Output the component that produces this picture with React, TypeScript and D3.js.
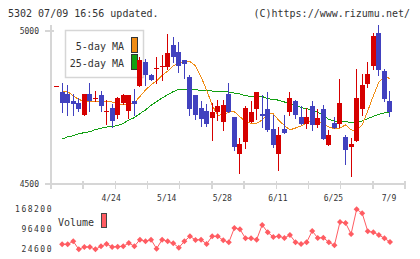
import React, { useEffect, useRef } from 'react';
import * as d3 from 'd3';

// daily prices, oldest first
const opens = [
  4820, 4800, 4795, 4770, 4765, 4725, 4795, 4780, 4790, 4740,
  4750, 4725, 4765, 4740, 4770, 4820, 4900, 4855, 4878, 4884,
  4882, 4955, 4930, 4905, 4850, 4790, 4748, 4740, 4717, 4735,
  4703, 4794, 4719, 4599, 4637, 4703, 4746, 4729, 4745, 4680,
  4599, 4680, 4735, 4771, 4719, 4697, 4755, 4694, 4745, 4628,
  4699, 4697, 4654, 4622, 4642, 4746, 4827, 4887, 4994, 4869,
  4771,
];
const highs = [
  4820, 4830, 4825, 4795, 4780, 4795, 4830, 4805, 4805, 4775,
  4760, 4785, 4795, 4790, 4810, 4915, 4910, 4860, 4915, 4920,
  4990, 4980, 4965, 4905, 4857, 4792, 4771, 4762, 4765, 4775,
  4775, 4830, 4719, 4650, 4754, 4771, 4800, 4790, 4800, 4725,
  4686, 4725, 4800, 4775, 4755, 4748, 4771, 4744, 4757, 4677,
  4719, 4843, 4661, 4650, 4876, 4860, 4899, 4994, 5020, 4876,
  4804,
];
const lows = [
  4820, 4735, 4725, 4725, 4740, 4725, 4740, 4770, 4740, 4695,
  4685, 4715, 4760, 4715, 4725, 4820, 4825, 4840, 4830, 4840,
  4877, 4900, 4865, 4845, 4725, 4713, 4689, 4690, 4643, 4708,
  4676, 4735, 4612, 4537, 4618, 4703, 4713, 4686, 4673, 4621,
  4547, 4668, 4724, 4717, 4697, 4683, 4677, 4686, 4648, 4628,
  4684, 4686, 4566, 4527, 4642, 4727, 4817, 4877, 4857, 4771,
  4723,
];
const closes = [
  4820, 4765, 4765, 4760, 4745, 4795, 4770, 4780, 4755, 4740,
  4705, 4780, 4790, 4790, 4760, 4905, 4855, 4840, 4880, 4887,
  4928, 4915, 4885, 4893, 4746, 4727, 4713, 4697, 4735, 4755,
  4758, 4735, 4621, 4631, 4748, 4735, 4800, 4722, 4677, 4628,
  4660, 4668, 4781, 4727, 4697, 4719, 4694, 4716, 4648, 4660,
  4684, 4765, 4612, 4631, 4781, 4824, 4860, 4984, 4874, 4778,
  4736,
];

const ma5 = [
  null, 4804, 4802, 4788, 4776, 4771, 4771, 4770, 4771, 4771,
  4768, 4761, 4761, 4761, 4765, 4786, 4807, 4824, 4837, 4855,
  4869, 4886, 4895, 4900, 4900, 4886, 4850, 4807, 4758, 4724,
  4727, 4735, 4736, 4720, 4704, 4698, 4698, 4709, 4729, 4729,
  4708, 4691, 4677, 4683, 4690, 4699, 4708, 4703, 4696, 4686,
  4681, 4683, 4693, 4677, 4674, 4693, 4739, 4788, 4833, 4850,
  4845,
];
const ma25 = [
  null, 4647, 4654, 4658, 4664, 4668, 4671, 4678, 4682, 4686,
  4688, 4691, 4698, 4709, 4717, 4730, 4742, 4757, 4769, 4781,
  4792, 4802, 4809, 4810, 4810, 4808, 4806, 4805, 4804, 4802,
  4801, 4801, 4797, 4794, 4788, 4787, 4786, 4786, 4779, 4776,
  4774, 4768, 4762, 4757, 4750, 4746, 4742, 4734, 4724, 4711,
  4706, 4704, 4703, 4702, 4702, 4706, 4714, 4721, 4728, 4732,
  4735,
];

const volumes = [
  null, 42500, 42500, 53300, 24600, 33000, 33000, 24600, 35400, 43700,
  33000, 34200, 35400, 47300, 35400, 59300, 53300, 59300, 27000, 59300,
  53300, 46100, 30600, 53300, 71300, 58100, 59300, 43700, 71300, 71300,
  56900, 49700, 101200, 96400, 64100, 64100, 59300, 112000, 85600, 68900,
  71300, 65300, 76100, 49700, 43700, 49700, 90400, 65300, 66500, 49700,
  39000, 122700, 119100, 79600, 168200, 153800, 89200, 85600, 76100, 64100,
  50900,
];

const dateTicks = [10, 20, 30, 40, 50, 60];
const dateLabels = ['4/24', '5/14', '5/28', '6/11', '6/25', '7/9'];
const priceTicks = [4500, 5000];

const UP = '#d60000';
const DOWN = '#4141bf';
const MA5_COLOR = '#f08c14';
const MA25_COLOR = '#12a012';
const VOL_COLOR = '#ff5c62';
const AXIS = '#d6d6d6';
const TEXT = '#333';
const MONO = "'DejaVu Sans Mono', monospace";

const App = () => {
  const svgRef = useRef<SVGSVGElement>(null);

  useEffect(() => {
    const svg = d3.select(svgRef.current);
    svg.selectAll('*').remove();

    const x = d3.scaleLinear().domain([-1, 62.7]).range([51, 405]);
    const y = d3.scaleLinear().domain([4500, 5000]).range([184, 31]);
    const volVals = volumes.filter((v) => v != null) as number[];
    const vMin = d3.min(volVals)!;
    const vMax = d3.max(volVals)!;
    const yv = d3.scaleLinear().domain([vMin, vMax]).range([249.3, 209.3]);

    // header
    svg.append('text').attr('x', 8).attr('y', 17)
      .style('font-family', MONO).style('font-size', '10px').attr('fill', TEXT)
      .text('5302 07/09 16:56 updated.');
    svg.append('text').attr('x', 410).attr('y', 17).attr('text-anchor', 'end')
      .style('font-family', MONO).style('font-size', '10px').attr('fill', TEXT)
      .text('(C)https://www.rizumu.net/');

    // axes
    const [x0, x1] = x.range();
    const axis = svg.append('g').attr('stroke', AXIS).attr('stroke-width', 1.5)
      .attr('shape-rendering', 'crispEdges');
    axis.append('line').attr('x1', x0).attr('x2', x0).attr('y1', 25).attr('y2', 189);
    axis.append('line').attr('x1', 45).attr('x2', x1).attr('y1', y(4500)).attr('y2', y(4500));
    axis.selectAll('.yt').data(priceTicks).enter().append('line')
      .attr('x1', 45).attr('x2', 54).attr('y1', (d) => y(d)).attr('y2', (d) => y(d));
    axis.selectAll('.xt').data(d3.range(12)).enter().append('line')
      .attr('x1', (k) => x0 + (k * (x1 - x0)) / 11)
      .attr('x2', (k) => x0 + (k * (x1 - x0)) / 11)
      .attr('y1', 181).attr('y2', 189);

    svg.selectAll('.pl').data(priceTicks).enter().append('text')
      .attr('x', 39).attr('y', (d) => y(d) + 3).attr('text-anchor', 'end')
      .style('font-family', MONO).style('font-size', '8px').attr('fill', TEXT)
      .text((d) => d);

    svg.selectAll('.dl').data(dateTicks).enter().append('text')
      .attr('x', (d) => x(d) - 1).attr('y', 201).attr('text-anchor', 'middle')
      .style('font-family', MONO).style('font-size', '8px').attr('fill', TEXT)
      .text((d, i) => dateLabels[i]);

    // legend box
    const lg = svg.append('g');
    lg.append('rect').attr('x', 65.5).attr('y', 30.5).attr('width', 78).attr('height', 47)
      .attr('fill', '#fff').attr('stroke', AXIS).attr('stroke-width', 1.5);
    lg.append('text').attr('x', 124).attr('y', 50).attr('text-anchor', 'end')
      .style('font-family', MONO).style('font-size', '10px').attr('fill', TEXT).text('5-day MA');
    lg.append('text').attr('x', 124).attr('y', 67).attr('text-anchor', 'end')
      .style('font-family', MONO).style('font-size', '10px').attr('fill', TEXT).text('25-day MA');
    lg.append('rect').attr('x', 131.5).attr('y', 37.5).attr('width', 6).attr('height', 15)
      .attr('fill', MA5_COLOR).attr('stroke', '#333');
    lg.append('rect').attr('x', 131.5).attr('y', 54.5).attr('width', 6).attr('height', 15)
      .attr('fill', MA25_COLOR).attr('stroke', '#333');

    // moving averages
    const maLine = d3.line<number | null>()
      .defined((d) => d != null)
      .x((d, i) => x(i))
      .y((d) => y(d as number));
    svg.append('path').datum(ma25).attr('d', maLine).attr('fill', 'none')
      .attr('stroke', MA25_COLOR).attr('stroke-width', 1).attr('shape-rendering', 'crispEdges');
    svg.append('path').datum(ma5).attr('d', maLine).attr('fill', 'none')
      .attr('stroke', MA5_COLOR).attr('stroke-width', 1).attr('shape-rendering', 'crispEdges');

    // candles
    const candles = svg.append('g').attr('shape-rendering', 'crispEdges');
    const c = candles.selectAll('g').data(d3.range(opens.length)).enter().append('g');
    const colorOf = (i: number) => (closes[i] >= opens[i] ? UP : DOWN);
    const left = (i: number) => Math.round(x(i) - 2.5);
    c.append('line')
      .attr('x1', (i) => left(i) + 2.5).attr('x2', (i) => left(i) + 2.5)
      .attr('y1', (i) => Math.round(y(highs[i]))).attr('y2', (i) => Math.round(y(lows[i])) + 1)
      .attr('stroke', colorOf).attr('stroke-width', 1);
    c.append('rect')
      .attr('x', left).attr('width', 5)
      .attr('y', (i) => Math.round(y(Math.max(opens[i], closes[i]))))
      .attr('height', (i) => Math.max(1, Math.round(y(Math.min(opens[i], closes[i]))) - Math.round(y(Math.max(opens[i], closes[i])))))
      .attr('fill', colorOf);

    // volume
    svg.selectAll('.vl').data([vMax, (vMin + vMax) / 2, vMin]).enter().append('text')
      .attr('x', 53).attr('y', (d) => yv(d) + 3).attr('text-anchor', 'end')
      .style('font-family', MONO).style('font-size', '8px').style('letter-spacing', '1.5px')
      .attr('fill', TEXT).text((d) => d);
    svg.append('text').attr('x', 58).attr('y', 226)
      .style('font-family', MONO).style('font-size', '10px').attr('fill', TEXT).text('Volume');
    svg.append('rect').attr('x', 101.5).attr('y', 213.5).attr('width', 5).attr('height', 14)
      .attr('fill', VOL_COLOR).attr('stroke', '#444');

    const volLine = d3.line<number | null>()
      .defined((d) => d != null)
      .x((d, i) => x(i))
      .y((d) => yv(d as number));
    svg.append('path').datum(volumes).attr('d', volLine).attr('fill', 'none')
      .attr('stroke', VOL_COLOR).attr('stroke-width', 1);
    svg.selectAll('.vm').data(volumes.map((v, i) => [i, v]).filter((d) => d[1] != null))
      .enter().append('path')
      .attr('transform', (d) => `translate(${x(d[0] as number)},${yv(d[1] as number)})`)
      .attr('d', 'M0,-3L3,0L0,3L-3,0Z')
      .attr('fill', VOL_COLOR);
  }, []);

  return (
    <svg
      ref={svgRef}
      width={420}
      height={259}
      style={{ position: 'absolute', left: 0, top: 0, background: '#fff' }}
    ></svg>
  );
};

export default App;
